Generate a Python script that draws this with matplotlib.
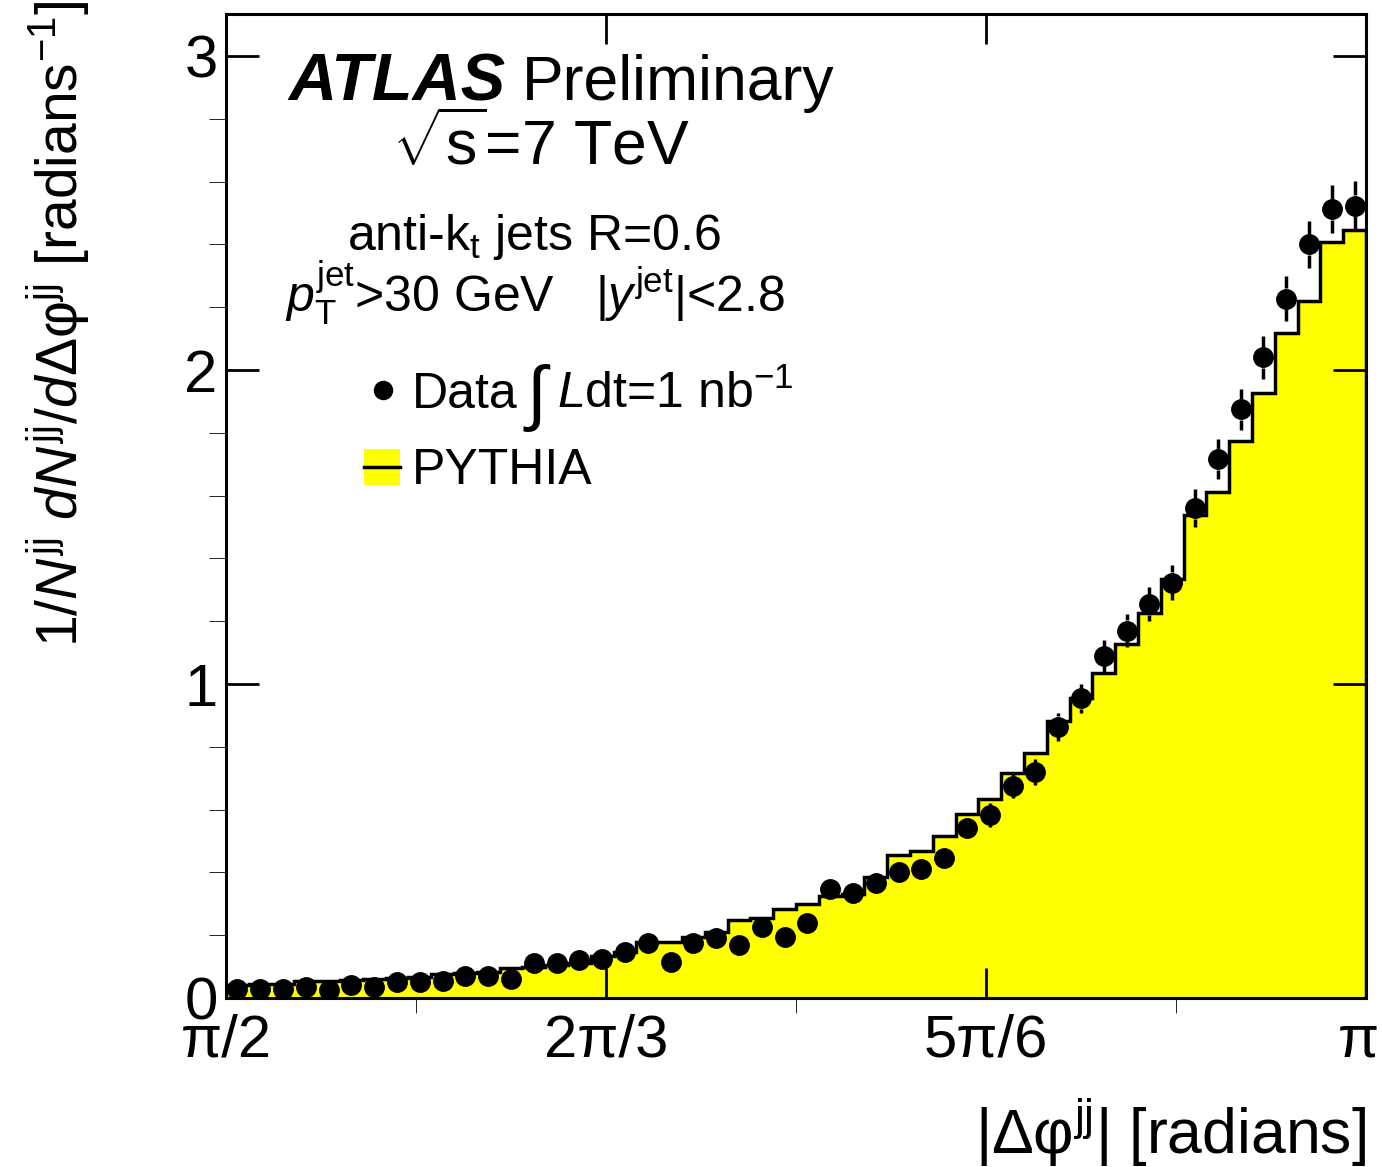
import numpy as np
import matplotlib
matplotlib.use("Agg")
import matplotlib.pyplot as plt
from matplotlib.patches import Rectangle
from matplotlib.transforms import ScaledTranslation

plt.rcParams['font.family'] = ['Liberation Sans', 'DejaVu Sans']
plt.rcParams['mathtext.fontset'] = 'custom'
plt.rcParams['mathtext.rm'] = 'Liberation Sans'
plt.rcParams['mathtext.it'] = 'Liberation Sans:italic'
plt.rcParams['mathtext.bf'] = 'Liberation Sans:bold'

# 50 bins in |dphi| from pi/2 to pi
n_bins = 50

data = [0.028, 0.028, 0.028, 0.036, 0.025, 0.041, 0.034, 0.050, 0.050, 0.055,
        0.070, 0.070, 0.061, 0.113, 0.110, 0.121, 0.124, 0.146, 0.174, 0.115,
        0.176, 0.190, 0.170, 0.225, 0.195, 0.238, 0.348, 0.333, 0.365, 0.402,
        0.410, 0.445, 0.540, 0.583, 0.675, 0.720, 0.864, 0.954, 1.089, 1.170,
        1.254, 1.323, 1.560, 1.716, 1.875, 2.040, 2.227, 2.401, 2.512, 2.524]

data_err = [0.008, 0.008, 0.008, 0.009, 0.008, 0.010, 0.009, 0.011, 0.011, 0.011,
            0.013, 0.013, 0.012, 0.016, 0.016, 0.017, 0.017, 0.018, 0.020, 0.016,
            0.020, 0.021, 0.020, 0.023, 0.021, 0.023, 0.028, 0.028, 0.029, 0.030,
            0.031, 0.032, 0.034, 0.037, 0.039, 0.041, 0.045, 0.047, 0.050, 0.052,
            0.054, 0.056, 0.060, 0.063, 0.066, 0.069, 0.072, 0.075, 0.077, 0.077]

pythia = [0.042, 0.044, 0.046, 0.055, 0.055, 0.056, 0.059, 0.065, 0.067, 0.078,
          0.080, 0.084, 0.094, 0.100, 0.105, 0.112, 0.134, 0.148, 0.179, 0.179,
          0.193, 0.211, 0.248, 0.254, 0.282, 0.298, 0.326, 0.330, 0.386, 0.455,
          0.468, 0.516, 0.586, 0.633, 0.718, 0.781, 0.882, 0.954, 1.036, 1.127,
          1.225, 1.334, 1.538, 1.612, 1.775, 1.926, 2.117, 2.221, 2.409, 2.446]

x_ticks = [np.pi / 2, 2 * np.pi / 3, 5 * np.pi / 6, np.pi]
x_ticklabels = ['π/2', '2π/3', '5π/6', 'π']
x_minor = [7 * np.pi / 12, 3 * np.pi / 4, 11 * np.pi / 12]

edges = np.linspace(np.pi / 2, np.pi, n_bins + 1)
centers = 0.5 * (edges[1:] + edges[:-1])
data = np.array(data)
data_err = np.array(data_err)

fig = plt.figure(figsize=(13.82, 11.67), dpi=100)
ax = fig.add_axes([226 / 1382, 169 / 1167, 1140 / 1382, 984 / 1167])

# PYTHIA histogram
ax.stairs(pythia, edges, fill=True, color='#ffff00', zorder=1)
ax.stairs(pythia, edges, color='black', lw=2.5, zorder=2)

# data error bars drawn outside the marker, ROOT style
r = 0.033
up = data_err > r
ax.vlines(centers[up], data[up] + r, data[up] + data_err[up], color='black', lw=2.5, zorder=3)
ax.vlines(centers[up], data[up] - data_err[up], data[up] - r, color='black', lw=2.5, zorder=3)
ax.plot(centers, data, 'o', color='black', ms=14, zorder=4)

ax.set_xlim(np.pi / 2, np.pi)
ax.set_ylim(0, 3.134)
ax.set_xticks(x_ticks)
ax.set_xticklabels(x_ticklabels)
ax.set_xticks(x_minor, minor=True)
ax.set_yticks([0, 1, 2, 3])
ax.set_yticks(np.arange(0, 3.1, 0.2), minor=True)

ax.tick_params(direction='in', top=True, right=True, width=2, labelsize=43)
ax.tick_params(axis='x', which='major', length=21.6, pad=11)
ax.tick_params(axis='x', which='minor', length=10.8)
ax.tick_params(axis='y', which='major', length=24, pad=6)
ax.tick_params(axis='y', which='minor', length=12)
for sp in ax.spines.values():
    sp.set_linewidth(2.2)
# keep the last label inside the canvas
last = ax.get_xticklabels()[-1]
last.set_transform(last.get_transform() + ScaledTranslation(-8 / 100, 0, fig.dpi_scale_trans))

# axis titles
fig.text(1366 / 1382, 13 / 1167, r'|$\mathrm{Δφ}^{\mathrm{jj}}$| [radians]',
         ha='right', va='baseline', fontsize=45)
fig.text(58 / 1382, 1 - 1 / 1167,
         r'$1/N^{\mathrm{jj}}\ dN^{\mathrm{jj}}/d\mathrm{Δφ}^{\mathrm{jj}}$ [radians$^{-1}$]',
         rotation=90, ha='center', va='top', fontsize=41)

# labels
ax.text(0.0544, 0.9126, 'ATLAS', fontsize=48, fontweight='bold', fontstyle='italic',
        transform=ax.transAxes, va='baseline')
ax.text(0.2596, 0.9126, 'Preliminary', fontsize=45, transform=ax.transAxes, va='baseline')
ax.text(0.1456, 0.8465, r'$\sqrt{\mathrm{s}}$=7 TeV', fontsize=45, transform=ax.transAxes,
        va='baseline')
ax.text(0.1061, 0.7602, r'anti-k$_{\mathrm{t}}$ jets R=0.6', fontsize=36,
        transform=ax.transAxes, va='baseline')
ax.text(0.0518, 0.6972, r'$p_{\mathrm{T}}^{\mathrm{jet}}$>30 GeV   |$y^{\mathrm{jet}}$|<2.8',
        fontsize=36, transform=ax.transAxes, va='baseline')

# legend
ax.plot([0.1377], [0.6179], 'o', color='black', ms=13, transform=ax.transAxes, clip_on=False)
ax.text(0.1632, 0.5996, 'Data', fontsize=36, transform=ax.transAxes, va='baseline')
ax.text(0.264, 0.6098, '∫', fontsize=52, transform=ax.transAxes, va='center', ha='left')
ax.text(0.2904, 0.5996, r'$L$dt=1 nb$^{-1}$', fontsize=36, transform=ax.transAxes, va='baseline')
ax.add_patch(Rectangle((0.1211, 0.5213), 0.0315, 0.0366, transform=ax.transAxes,
                       facecolor='#ffff00', edgecolor='none'))
ax.plot([0.1211, 0.1526], [0.5396, 0.5396], color='black', lw=2.5, transform=ax.transAxes)
ax.text(0.1632, 0.5224, 'PYTHIA', fontsize=36, transform=ax.transAxes, va='baseline')

fig.savefig('out.png', dpi=100)
